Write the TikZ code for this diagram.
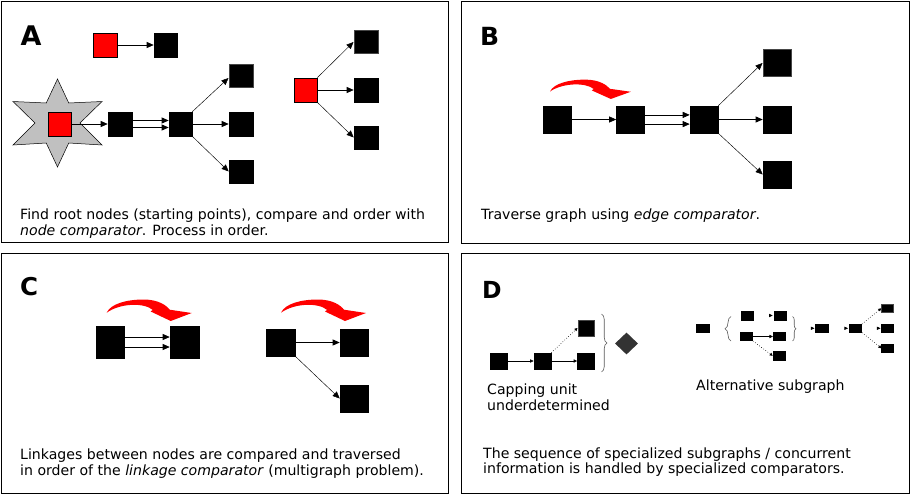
\documentclass[tikz,border=0pt]{standalone}
\usepackage{fontspec}
\setmainfont{DejaVu Sans}[ItalicFont={DejaVu Sans Oblique},BoldFont={DejaVu Sans Bold}]
\usetikzlibrary{arrows.meta,shapes.geometric,decorations.pathreplacing,calc}
\definecolor{starfill}{RGB}{192,192,192}
\definecolor{edgegray}{RGB}{70,70,70}
\definecolor{diamondgray}{RGB}{51,51,51}
\definecolor{bracegray}{RGB}{90,90,90}
\tikzset{
  blk/.style={draw=black, fill=black, inner sep=0pt, line width=0.6pt},
  grayblk/.style={blk, draw=edgegray, line width=1pt},
  redsq/.style={draw=black, fill=red, inner sep=0pt, line width=0.8pt},
  arr/.style={-{Triangle[length=7pt,width=6pt]}, line width=0.7pt},
  thinarr/.style={-{Triangle[length=7pt,width=6pt]}, line width=0.45pt},
  tinyarr/.style={-{Triangle[length=3.5pt,width=3.2pt]}, line width=0.6pt},
  dotarr/.style={-{Triangle[length=3pt,width=3pt]}, line width=0.6pt, dotted},
  panel/.style={draw=black, line width=1pt},
  letter/.style={font=\fontsize{27}{27}\selectfont\bfseries, inner sep=0pt, anchor=base west},
  captxt/.style={font=\fontsize{14.1}{16}\selectfont, inner sep=0pt, anchor=base west},
  bracestyle/.style={draw=bracegray, line width=0.6pt, decorate},
  redcurve/.pic={
    \fill[red] (0,0) .. controls (4,-9) and (20,-13.2) .. (37,-13.2)
      .. controls (52,-13.2) and (60,-7) .. (63,-3) -- (85,0.3) -- (64,8.3) -- (44,-1.2)
      -- (46,-2.8) .. controls (38,-10) and (14,-10) .. (0,0) -- cycle;
  }
}
\begin{document}
\begin{tikzpicture}[x=1pt,y=-1pt]
\useasboundingbox (0,0) rectangle (912,498);
\fill[white] (0,0) rectangle (912,498);
% panels
\draw[panel] (1.5,1.5) rectangle (448,242.5);
\draw[panel] (461,1.5) rectangle (909,243);
\draw[panel] (1.5,253) rectangle (448,493.5);
\draw[panel] (461,253) rectangle (909,493.5);
% letters
\node[letter] (LA) at (20.5,45) {A};
\node[letter, font=\fontsize{25}{25}\selectfont\bfseries] (LB) at (480,45) {B};
\node[letter, font=\fontsize{24.5}{25}\selectfont\bfseries] (LC) at (20,295.5) {C};
\node[letter, font=\fontsize{23.5}{25}\selectfont\bfseries] (LD) at (482,298) {D};

% ---------- Panel A ----------
\node[redsq, minimum width=24, minimum height=24] (ra) at (105,45) {};
\node[blk, minimum width=23, minimum height=24] (ba) at (165.5,45) {};
\draw[arr] (ra) -- (ba);
\filldraw[fill=starfill, draw=black, line width=0.5pt]
  (57.5,79) -- (68.75,103) -- (102,101.5) -- (80,123) -- (102,145) -- (68.75,143)
  -- (57.5,167) -- (46.25,143) -- (13,145) -- (35,123) -- (13,101.5) -- (46.25,103) -- cycle;
\node[redsq, minimum width=23, minimum height=24] (rs) at (59.5,124) {};
\node[blk, minimum width=24, minimum height=24] (a1) at (120,124) {};
\node[blk, minimum width=23, minimum height=24] (a2) at (180.5,124) {};
\node[grayblk, minimum width=24, minimum height=23] (a3) at (241,75.5) {};
\node[blk, minimum width=24, minimum height=24] (a4) at (241,124) {};
\node[blk, minimum width=24, minimum height=23] (a5) at (241,171.5) {};
\draw[arr] (rs) -- (a1);
\draw[arr] ([yshift=3.5pt]a1.east) -- ([yshift=3.5pt]a2.west);
\draw[arr] ([yshift=-3.5pt]a1.east) -- ([yshift=-3.5pt]a2.west);
\draw[thinarr] (a2.north east) -- ([yshift=-2.5pt]a3.west);
\draw[arr] (a2) -- (a4);
\draw[thinarr] (a2.south east) -- (a5.west);
\node[redsq, minimum width=23, minimum height=24] (rr) at (305.5,90) {};
\node[grayblk, minimum width=24, minimum height=23] (a6) at (366,42) {};
\node[blk, minimum width=24, minimum height=24] (a7) at (366,90) {};
\node[blk, minimum width=24, minimum height=23] (a8) at (366,137.5) {};
\draw[thinarr] (rr.north east) -- (a6.west);
\draw[arr] (rr) -- (a7);
\draw[thinarr] (rr.south east) -- (a8.west);
\node[captxt] (capA1) at (20,219) {Find root nodes (starting points), compare and order with};
\node[captxt] (capA2) at (20,235) {\textit{node comparator}. Process in order.};

% ---------- Panel B ----------
\pic[xscale=0.95, yscale=0.9] at (550,91.5) {redcurve};
\node[blk, minimum width=28, minimum height=27] (b1) at (557,119.5) {};
\node[blk, minimum width=28, minimum height=27] (b2) at (630.5,119.5) {};
\node[blk, minimum width=28, minimum height=27] (b3) at (704,119.5) {};
\node[grayblk, minimum width=28, minimum height=27] (b4) at (777,63) {};
\node[blk, minimum width=28, minimum height=27] (b5) at (777,119.5) {};
\node[blk, minimum width=28, minimum height=27] (b6) at (777,174.5) {};
\draw[arr] (b1) -- (b2);
\draw[arr] ([yshift=4.6pt]b2.east) -- ([yshift=4.6pt]b3.west);
\draw[arr] ([yshift=-4.6pt]b2.east) -- ([yshift=-4.6pt]b3.west);
\draw[thinarr] (b3.north east) -- (b4.west);
\draw[arr] (b3) -- (b5);
\draw[thinarr] (b3.south east) -- (b6.west);
\node[captxt] (capB) at (481,219) {Traverse graph using \textit{edge comparator}.};

% ---------- Panel C ----------
\pic at (106.7,312.7) {redcurve};
\pic at (281,312.7) {redcurve};
\node[blk, minimum width=28, minimum height=32] (c1) at (110,342) {};
\node[blk, minimum width=29, minimum height=32] (c2) at (184.5,342) {};
\draw[arr] ([yshift=5pt]c1.east) -- ([yshift=5pt]c2.west);
\draw[arr] ([yshift=-5pt]c1.east) -- ([yshift=-5pt]c2.west);
\node[blk, minimum width=29, minimum height=27] (c3) at (280.5,342.5) {};
\node[blk, minimum width=28, minimum height=27] (c4) at (354,342.5) {};
\node[blk, minimum width=28, minimum height=27] (c5) at (354,398.5) {};
\draw[arr] (c3) -- (c4);
\draw[thinarr] (c3.south east) -- (c5.west);
\node[captxt] (capC1) at (20,459) {Linkages between nodes are compared and traversed};
\node[captxt] (capC2) at (20,475) {in order of the \textit{linkage comparator} (multigraph problem).};

% ---------- Panel D ----------
\node[blk, minimum width=17, minimum height=16] (d1) at (498.5,361) {};
\node[blk, minimum width=17, minimum height=16] (d2) at (542.5,361) {};
\node[blk, minimum width=17, minimum height=16] (d3) at (586,361) {};
\node[grayblk, minimum width=16, minimum height=16] (d4) at (586,328) {};
\draw[tinyarr] (d1) -- (d2);
\draw[tinyarr] (d2) -- (d3);
\draw[dotarr] (d2.north east) -- (d4.west);
\draw[bracestyle, decoration={brace, amplitude=5.5pt}] (601.5,314) -- (601.5,372);
\node[diamond, fill=diamondgray, minimum width=23, minimum height=22, inner sep=0pt] (dia) at (626.5,343.5) {};
\node[captxt] (capD1) at (487,394) {Capping unit};
\node[captxt] (capD2) at (487,410) {underdetermined};

\node[blk, minimum width=13, minimum height=8.5] (s1) at (702.5,328.3) {};
\node[blk, minimum width=12, minimum height=9] (s2) at (747,315.5) {};
\node[blk, minimum width=12, minimum height=9] (s3) at (780,315.5) {};
\node[blk, minimum width=12.5, minimum height=8.5] (s4) at (746.5,336.5) {};
\node[blk, minimum width=12.5, minimum height=8.5] (s5) at (779.5,336.5) {};
\node[blk, minimum width=12, minimum height=9.5] (s6) at (779,355.8) {};
\node[blk, minimum width=12.5, minimum height=8] (s7) at (822,328.3) {};
\node[blk, minimum width=12.5, minimum height=8] (s8) at (855.5,328.3) {};
\node[grayblk, minimum width=11.5, minimum height=8] (s9) at (887.5,308.3) {};
\node[blk, minimum width=11.5, minimum height=8] (s10) at (887.5,328.3) {};
\node[blk, minimum width=11.5, minimum height=8] (s11) at (887.5,348.3) {};
\draw[bracestyle, decoration={brace, amplitude=6pt}] (731,341) -- (731,316.5);
\draw[bracestyle, decoration={brace, amplitude=3.5pt}] (792.5,316.5) -- (792.5,341);
\draw[tinyarr] (s4) -- (s5);
\draw[dotarr] (s4.south east) -- (s6.west);
\draw[tinyarr] ([xshift=-4pt]s3.west) -- ([xshift=-1pt]s3.west);
\draw[tinyarr] ([xshift=-4pt]s7.west) -- ([xshift=-1pt]s7.west);
\draw[tinyarr] ([xshift=-4pt]s8.west) -- ([xshift=-1pt]s8.west);
\draw[tinyarr] ([xshift=-4pt]s10.west) -- ([xshift=-1pt]s10.west);
\draw[dotarr] (s8.north east) -- (s9.west);
\draw[dotarr] (s8.south east) -- (s11.west);
\node[captxt] (capD3) at (696,390) {Alternative subgraph};
\node[captxt] (capD4) at (483,458) {The sequence of specialized subgraphs / concurrent};
\node[captxt] (capD5) at (483,473) {information is handled by specialized comparators.};
\end{tikzpicture}
\end{document}
